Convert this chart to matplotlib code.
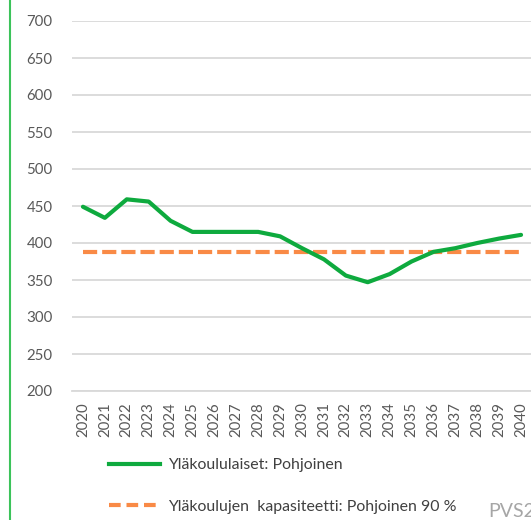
import matplotlib
matplotlib.use("Agg")
import matplotlib.pyplot as plt
from matplotlib.lines import Line2D

years = [str(y) for y in range(2020, 2041)]
students = [449, 434, 459, 456, 430, 415, 415, 415, 415, 409, 393, 378,
            356, 347, 358, 375, 388, 393, 400, 406, 411]
capacity = [388] * len(years)
yticks = [200, 250, 300, 350, 400, 450, 500, 550, 600, 650, 700]
label_students = "Yläkoululaiset: Pohjoinen"
label_capacity = "Yläkoulujen  kapasiteetti: Pohjoinen 90 %"

plt.rcParams['font.family'] = ['Lato', 'DejaVu Sans']

fig = plt.figure(figsize=(5.31, 5.20), dpi=100)
ax = fig.add_axes([72/531, 1-391/520, 460/531, 370/520])

x = list(range(len(years)))
ax.plot(x, capacity, color='#F98A46', lw=3, linestyle=(0, (3.4, 1.2)),
        dash_capstyle='butt', label=label_capacity, zorder=3)
ax.plot(x, students, color='#0EAA3E', lw=3, solid_capstyle='round',
        label=label_students, zorder=4)

ax.set_xlim(-0.5, len(years) - 0.5)
ax.set_ylim(200, 700)
ax.set_yticks(yticks)
ax.set_xticks(x)
ax.set_xticklabels(years, rotation=90)
ax.tick_params(axis='both', length=0, labelsize=10.8, colors='#595959')
ax.tick_params(axis='y', pad=14)
ax.tick_params(axis='x', pad=8)
ax.grid(axis='y', color='#d9d9d9', lw=1.3)
ax.set_axisbelow(True)
for s in ['top', 'right', 'left']:
    ax.spines[s].set_visible(False)
ax.spines['bottom'].set_color('#d9d9d9')
ax.spines['bottom'].set_linewidth(1.3)

h = [Line2D([], [], color='#0EAA3E', lw=3),
     Line2D([], [], color='#F98A46', lw=3, linestyle=(0, (2.8, 1.4)), dash_capstyle='butt')]
leg = fig.legend(h, [label_students, label_capacity], loc='upper left',
                 bbox_to_anchor=(109/531, 1-458/520), frameon=False,
                 fontsize=11.4, handlelength=3.2, handletextpad=0.5,
                 labelspacing=1.75, borderpad=0, borderaxespad=0)
for t in leg.get_texts():
    t.set_color('#404040')

fig.text(488/531, 1-517/520, "PVS2", color='#a6a6a6', fontsize=14, va='baseline', ha='left')
fig.add_artist(Line2D([10/531, 10/531], [0, 1], transform=fig.transFigure,
                      color='#3CC35A', lw=1.5))

fig.savefig("out.png", dpi=100)
